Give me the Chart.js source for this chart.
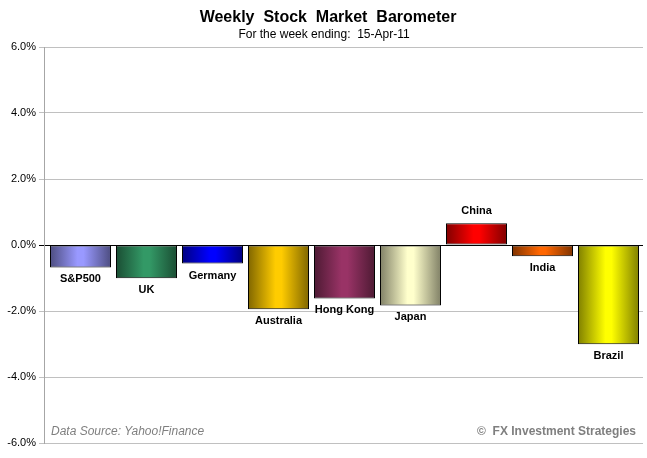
<!DOCTYPE html>
<html>
<head>
<meta charset="utf-8">
<script src="https://cdn.jsdelivr.net/npm/chart.js@4/dist/chart.umd.min.js"></script>
<style>
  html, body { margin: 0; padding: 0; background: #ffffff; }
  #wrap { width: 647px; height: 458px; position: relative; }
</style>
</head>
<body>
<div id="wrap"><canvas id="c" width="647" height="458"></canvas></div>
<script>
// ---- data ----
const categories = ['S&P500', 'UK', 'Germany', 'Australia', 'Hong Kong', 'Japan', 'China', 'India', 'Brazil'];
const weeklyChange = [-0.68, -1.01, -0.56, -1.95, -1.62, -1.83, 0.66, -0.34, -3.01];
const yTicks = [-6, -4, -2, 0, 2, 4, 6];
const titleText = 'Weekly  Stock  Market  Barometer';
const subtitleText = 'For the week ending:  15-Apr-11';
const sourceText = 'Data Source: Yahoo!Finance';
const creditText = '\u00A9  FX Investment Strategies';

// ---- styles ----
const barColors = ['#9999FF', '#339966', '#0000FF', '#FFCC00', '#993366', '#FFFFCC', '#FF0000', '#FF6600', '#FFFF00'];
const FONT = '"Liberation Sans", Arial, sans-serif';
const BAR_PCT = 0.924;

function darken(hex, f) {
  const n = parseInt(hex.slice(1), 16);
  const r = Math.round(((n >> 16) & 255) * f);
  const g = Math.round(((n >> 8) & 255) * f);
  const b = Math.round((n & 255) * f);
  return `rgb(${r},${g},${b})`;
}

function barFill(ctx) {
  const base = barColors[ctx.dataIndex] || '#888888';
  if (ctx.type !== 'data') return base;
  const chart = ctx.chart;
  const xs = chart.scales && chart.scales.x;
  if (!xs || !chart.chartArea) return base;
  const cx = xs.getPixelForValue(ctx.dataIndex);
  const w = xs._length / categories.length * BAR_PCT;
  const g = chart.ctx.createLinearGradient(cx - w / 2, 0, cx + w / 2, 0);
  const dark = darken(base, 0.5);
  g.addColorStop(0, dark);
  g.addColorStop(0.45, base);
  g.addColorStop(0.55, base);
  g.addColorStop(1, dark);
  return g;
}

// Excel-like inset of the category band inside the plot area
const bandPlugin = {
  id: 'band',
  afterLayout(chart) {
    const xs = chart.scales.x;
    const ca = chart.chartArea;
    xs._startPixel = ca.left + 3.5;
    xs._length = (ca.right - ca.left) - 5;
  }
};

const labelsPlugin = {
  id: 'barLabels',
  afterDatasetsDraw(chart) {
    const c = chart.ctx;
    const meta = chart.getDatasetMeta(0);
    c.save();
    c.font = 'bold 11px ' + FONT;
    c.fillStyle = '#000';
    c.textAlign = 'center';
    c.textBaseline = 'middle';
    meta.data.forEach((el, i) => {
      const v = weeklyChange[i];
      const y = v < 0 ? el.y + 12 : el.y - 12;
      c.fillText(categories[i], el.x, y);
    });
    c.restore();
  }
};

const textPlugin = {
  id: 'texts',
  afterDraw(chart) {
    const c = chart.ctx;
    c.save();
    c.fillStyle = '#000';
    c.textAlign = 'center';
    c.textBaseline = 'middle';
    c.font = 'bold 16px ' + FONT;
    c.fillText(titleText, 328, 18);
    c.font = '12px ' + FONT;
    c.fillText(subtitleText, 324, 35);
    c.fillStyle = '#7f7f7f';
    c.textAlign = 'left';
    c.font = 'italic 12px ' + FONT;
    c.fillText(sourceText, 51, 432);
    c.textAlign = 'right';
    c.font = 'bold 12px ' + FONT;
    c.fillText(creditText, 636, 432);
    c.restore();
  }
};

new Chart(document.getElementById('c'), {
  type: 'bar',
  data: {
    labels: categories,
    datasets: [{
      data: weeklyChange,
      backgroundColor: barFill,
      borderColor: '#000000',
      borderWidth: 1,
      borderSkipped: false,
      barPercentage: BAR_PCT,
      categoryPercentage: 1.0
    }]
  },
  options: {
    responsive: false,
    animation: false,
    devicePixelRatio: 1,
    layout: { padding: { top: 47, bottom: 15, left: 0, right: 4 } },
    plugins: {
      legend: { display: false },
      title: { display: false },
      tooltip: { enabled: false }
    },
    scales: {
      x: {
        display: false,
        grid: { display: false }
      },
      y: {
        min: -6,
        max: 6,
        afterBuildTicks(scale) { scale.ticks = yTicks.map(v => ({ value: v })); },
        afterFit(scale) { scale.width = 44; },
        ticks: {
          callback: v => Number(v).toFixed(1) + '%',
          color: '#000',
          font: { family: FONT, size: 11 },
          padding: 3
        },
        grid: {
          color: ctx => (ctx.tick && ctx.tick.value === 0) ? '#000000' : '#c0c0c0',
          tickLength: 5,
          lineWidth: 1
        },
        border: { color: '#a6a6a6', width: 1 }
      }
    }
  },
  plugins: [bandPlugin, labelsPlugin, textPlugin]
});
</script>
</body>
</html>
